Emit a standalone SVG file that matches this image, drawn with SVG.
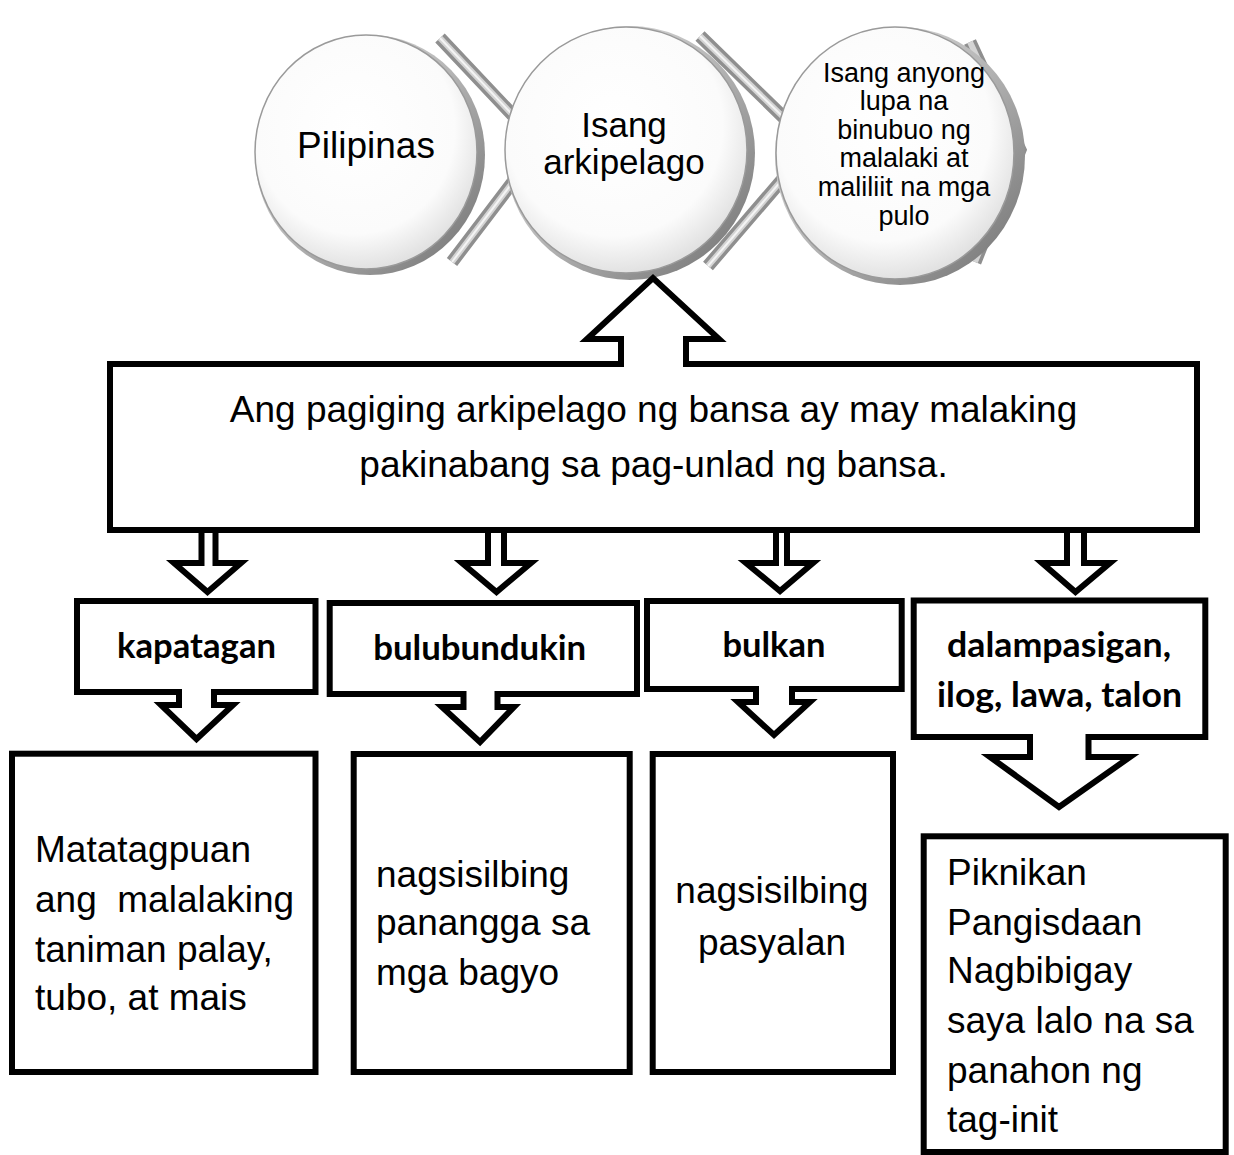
<svg xmlns="http://www.w3.org/2000/svg" width="1234" height="1155" viewBox="0 0 1234 1155">
<defs>
<radialGradient id="face" cx="0.45" cy="0.4" r="0.6">
<stop offset="0" stop-color="#ffffff"/>
<stop offset="0.75" stop-color="#fbfbfb"/>
<stop offset="1" stop-color="#e2e2e2"/>
</radialGradient>
<linearGradient id="rim" x1="0" y1="0" x2="1" y2="1">
<stop offset="0" stop-color="#eeeeee"/>
<stop offset="0.5" stop-color="#b5b5b5"/>
<stop offset="1" stop-color="#6e6e6e"/>
</linearGradient>
</defs>
<style>
.box{fill:#fff;stroke:#000;stroke-width:6;stroke-linejoin:miter;stroke-miterlimit:10}
.arr{fill:#fff;stroke:#000;stroke-width:6;stroke-linejoin:miter;stroke-miterlimit:10}
.chev{fill:#fff;stroke:#8f8f8f;stroke-width:13;stroke-linejoin:miter}
.chevh{fill:none;stroke:#d4d4d4;stroke-width:6;stroke-linejoin:miter}
.chevw{fill:none;stroke:#f4f4f4;stroke-width:2;stroke-linejoin:miter}
.rim{fill:url(#rim)}
.face{fill:url(#face);stroke:#9a9a9a;stroke-width:1.5}
.t{font-family:"Liberation Sans",Arial,sans-serif;fill:#000}
.b{font-family:Lato,"Liberation Sans",sans-serif;font-weight:700;fill:#000;font-size:34px}
</style>
<rect width="1234" height="1155" fill="#fff"/>

<g id="connectors">
<path class="chev" d="M440,38 L541,145 L452,262"/>
<path class="chevh" d="M440,38 L541,145 L452,262"/>
<path class="chevw" d="M440,38 L541,145 L452,262"/>
<path class="chev" d="M700,36 L812,145 L708,266"/>
<path class="chevh" d="M700,36 L812,145 L708,266"/>
<path class="chevw" d="M700,36 L812,145 L708,266"/>
<path class="chev" d="M970,42 L1020,150 L975,262"/>
<path class="chevh" d="M970,42 L1020,150 L975,262"/>
<path class="arr" d="M201.5,530 V563 H174 L207.5,592 L241,563 H215.5 V530"/>
<path class="arr" d="M488,530 V563 H462 L496.5,592 L531,563 H504 V530"/>
<path class="arr" d="M776,530 V563 H746 L780,591 L813,563 H787 V530"/>
<path class="arr" d="M1067,530 V563 H1042 L1075.5,592 L1110,563 H1084 V530"/>
</g>

<g id="circle-pilipinas">
<ellipse class="rim" cx="370" cy="155" rx="115" ry="120"/>
<ellipse class="face" cx="366" cy="152" rx="111" ry="117"/>
<text class="t" x="366" y="158" font-size="37" text-anchor="middle">Pilipinas</text>
</g>
<g id="circle-arkipelago">
<ellipse class="rim" cx="630" cy="153" rx="125" ry="127"/>
<ellipse class="face" cx="626" cy="150" rx="121" ry="123"/>
<text class="t" x="624" y="137" font-size="35" text-anchor="middle">Isang</text>
<text class="t" x="624" y="174" font-size="35" text-anchor="middle">arkipelago</text>
</g>
<g id="circle-anyong-lupa">
<ellipse class="rim" cx="900" cy="156" rx="125" ry="129"/>
<ellipse class="face" cx="895" cy="153" rx="119" ry="126"/>
<g class="t" font-size="27" text-anchor="middle">
<text x="904" y="82">Isang anyong</text>
<text x="904" y="110">lupa na</text>
<text x="904" y="139">binubuo ng</text>
<text x="904" y="167">malalaki at</text>
<text x="904" y="196">maliliit na mga</text>
<text x="904" y="225">pulo</text>
</g>
</g>

<g id="main-box">
<path class="box" d="M110,364 H621 V339 H587 L653,278 L719,339 H686 V364 H1197 V530 H110 Z"/>
<text class="t" x="653.5" y="422" font-size="37" text-anchor="middle">Ang pagiging arkipelago ng bansa ay may malaking</text>
<text class="t" x="653.5" y="477" font-size="37" text-anchor="middle">pakinabang sa pag-unlad ng bansa.</text>
</g>

<g id="cat-kapatagan">
<path class="box" d="M77,601 H315.5 V692 H214 V705 H233 L196.5,739 L161,705 H179 V692 H77 Z"/>
<text class="b" x="196.5" y="658" text-anchor="middle" textLength="159" lengthAdjust="spacingAndGlyphs">kapatagan</text>
</g>
<g id="cat-bulubundukin">
<path class="box" d="M329.7,603 H637 V694 H497.5 V707 H514 L480,742 L442,707 H463.5 V694 H329.7 Z"/>
<text class="b" x="479.7" y="660" text-anchor="middle" textLength="213" lengthAdjust="spacingAndGlyphs">bulubundukin</text>
</g>
<g id="cat-bulkan">
<path class="box" d="M647,601 H901.7 V689 H792 V702 H810 L774,735 L738,702 H756 V689 H647 Z"/>
<text class="b" x="774" y="657" text-anchor="middle" textLength="103" lengthAdjust="spacingAndGlyphs">bulkan</text>
</g>
<g id="cat-dalampasigan">
<path class="box" d="M913.7,600.5 H1205.3 V737 H1088.5 V757 H1130 L1059,807 L990,757 H1030 V737 H913.7 Z"/>
<text class="b" x="1059" y="657" text-anchor="middle" textLength="224" lengthAdjust="spacingAndGlyphs">dalampasigan,</text>
<text class="b" x="1059.5" y="707" text-anchor="middle" textLength="245" lengthAdjust="spacingAndGlyphs">ilog, lawa, talon</text>
</g>

<g id="box-kapatagan">
<rect class="box" x="12" y="753.7" width="303.5" height="318.3"/>
<g class="t" font-size="37">
<text x="35" y="862">Matatagpuan</text>
<text x="35" y="912" xml:space="preserve">ang  malalaking</text>
<text x="35" y="962">taniman palay,</text>
<text x="35" y="1010">tubo, at mais</text>
</g>
</g>
<g id="box-bulubundukin">
<rect class="box" x="353.7" y="754" width="276" height="318"/>
<g class="t" font-size="37">
<text x="376" y="887">nagsisilbing</text>
<text x="376" y="935">panangga sa</text>
<text x="376" y="985">mga bagyo</text>
</g>
</g>
<g id="box-bulkan">
<rect class="box" x="652.7" y="754" width="240.3" height="318"/>
<g class="t" font-size="37" text-anchor="middle">
<text x="772" y="903">nagsisilbing</text>
<text x="772" y="955">pasyalan</text>
</g>
</g>
<g id="box-dalampasigan">
<rect class="box" x="923.7" y="836.3" width="302" height="315.7"/>
<g class="t" font-size="37">
<text x="947" y="885">Piknikan</text>
<text x="947" y="935">Pangisdaan</text>
<text x="947" y="983">Nagbibigay</text>
<text x="947" y="1033">saya lalo na sa</text>
<text x="947" y="1083">panahon ng</text>
<text x="947" y="1132">tag-init</text>
</g>
</g>
</svg>
